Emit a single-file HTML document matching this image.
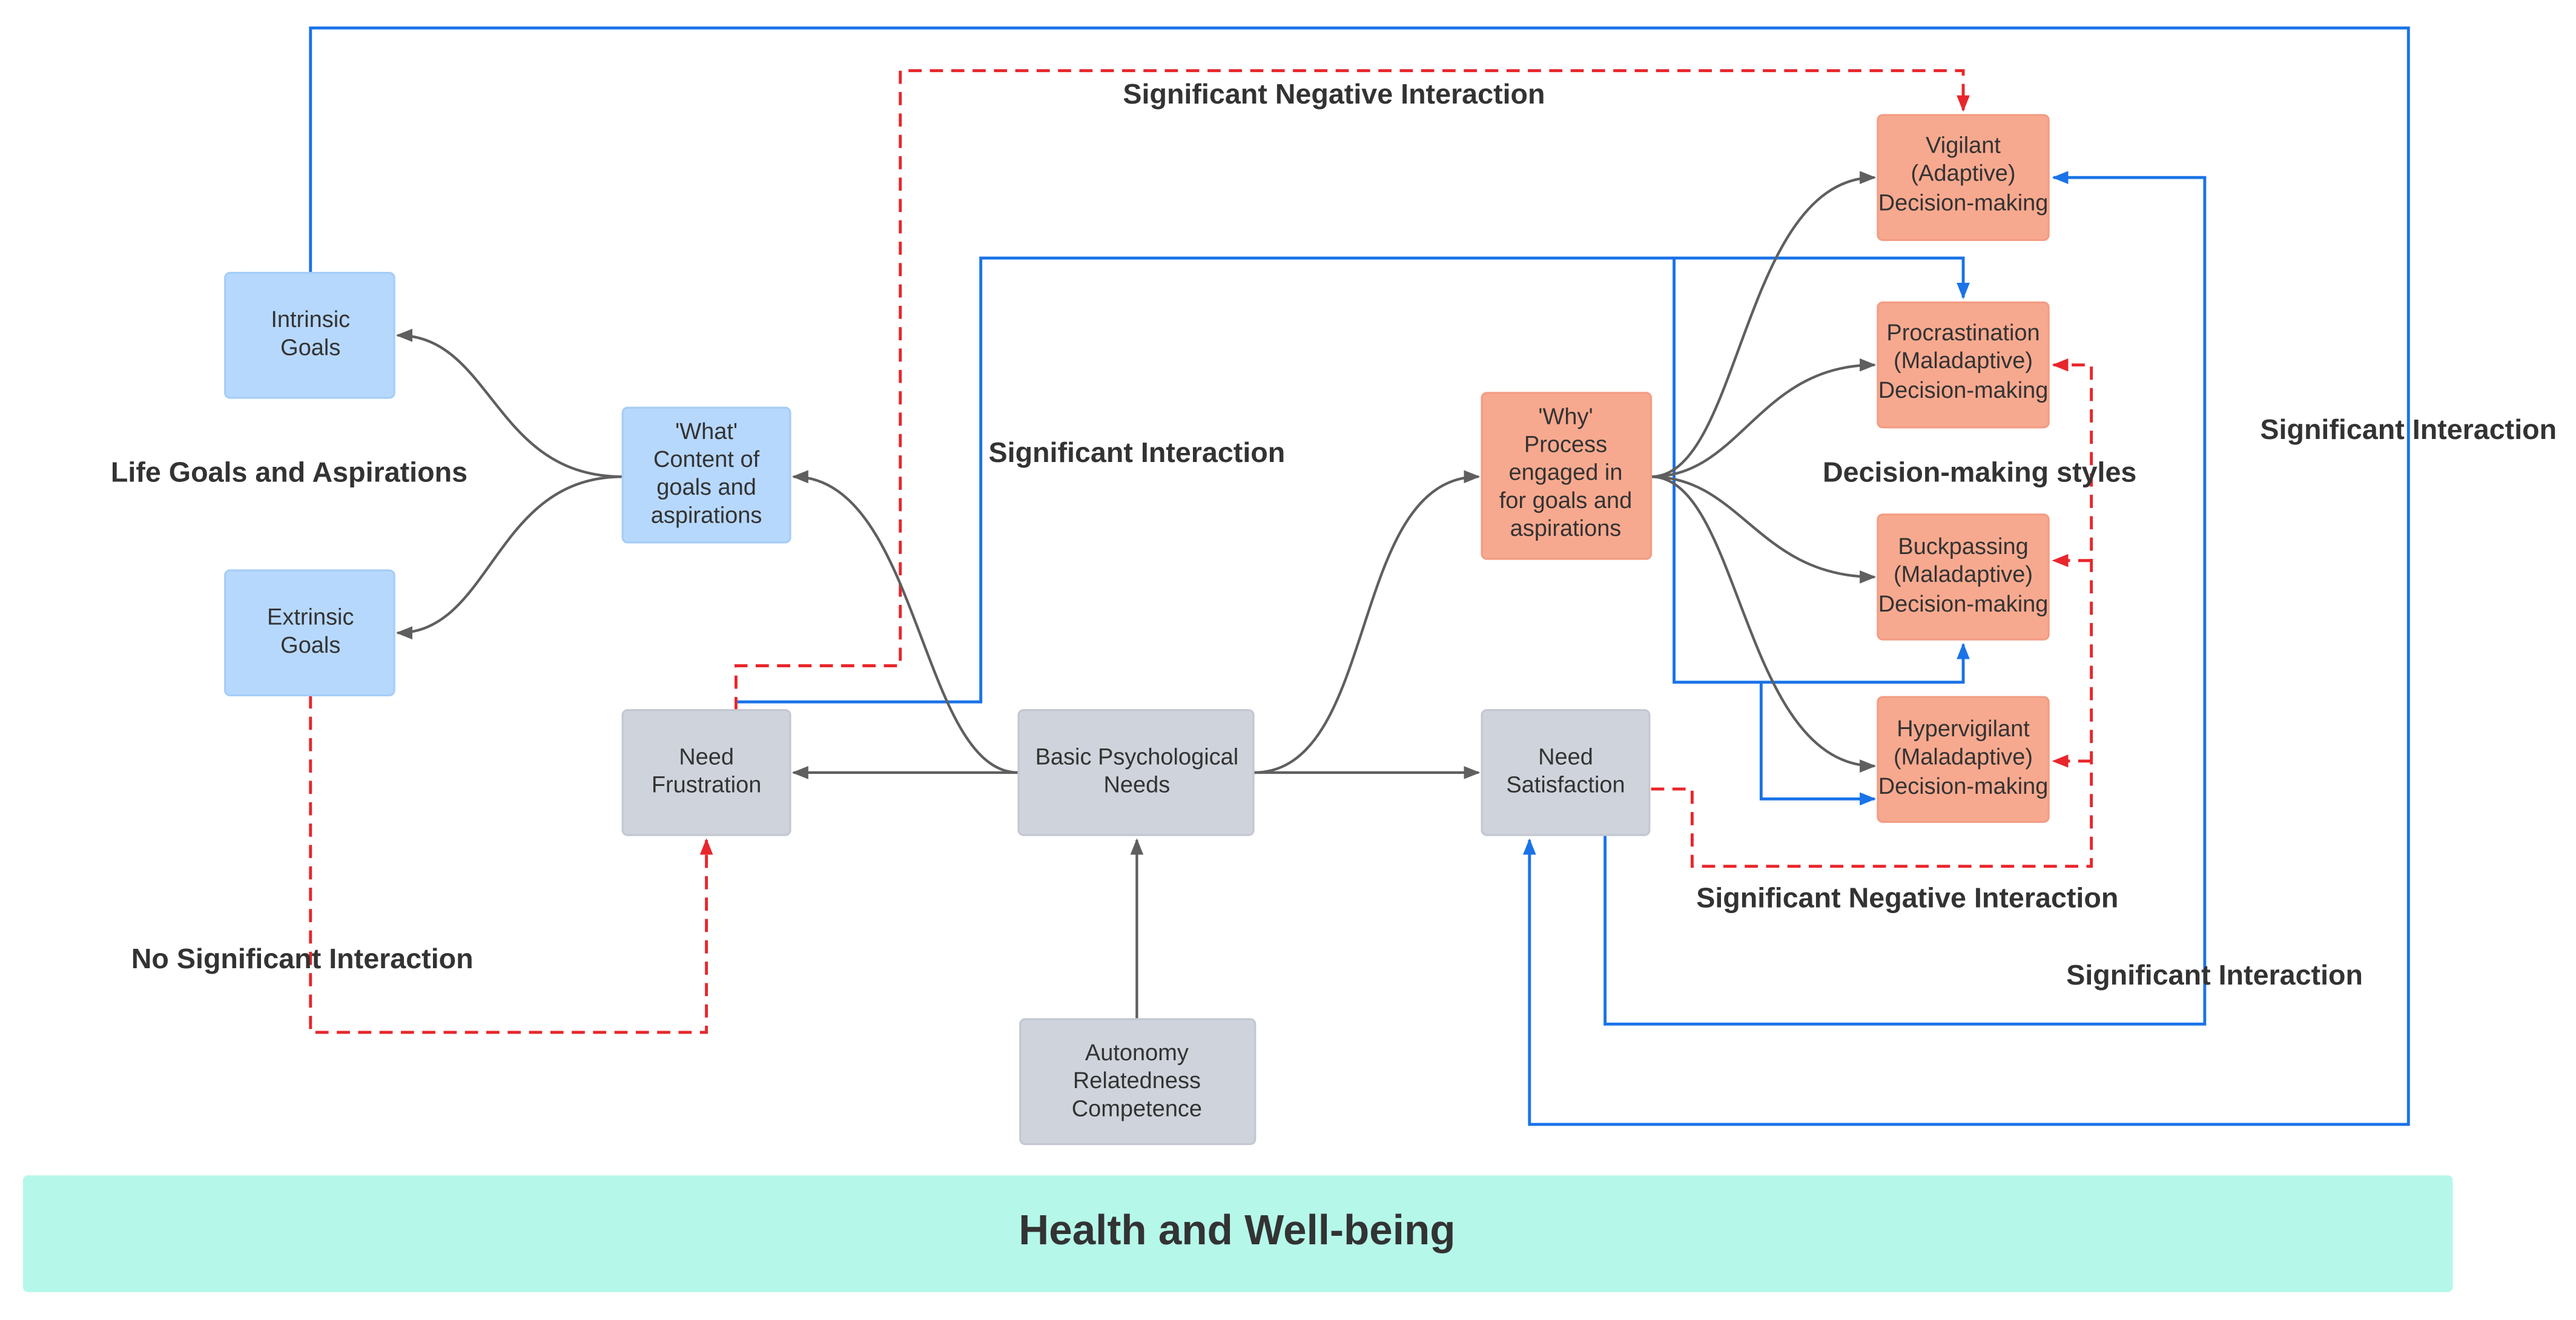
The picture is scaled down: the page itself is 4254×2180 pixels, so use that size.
<!DOCTYPE html>
<html><head><meta charset="utf-8"><style>
html,body{margin:0;padding:0;background:#fff;width:4254px;height:2180px;overflow:hidden}
svg{display:block}
text{font-family:"Liberation Sans",Arial,sans-serif}
.b{font-size:14px;fill:#333;text-anchor:middle}
.l{font-size:17.2px;font-weight:bold;fill:#333;text-anchor:middle}
.g{fill:none;stroke:#5f5f5f;stroke-width:1.6}
.bl{fill:none;stroke:#1a73e8;stroke-width:1.8}
.rd{fill:none;stroke:#e8262b;stroke-width:1.8;stroke-dasharray:8,5}
</style></head><body>
<svg width="4254" height="2180" viewBox="0 0 1568 803" preserveAspectRatio="none" xmlns="http://www.w3.org/2000/svg">
<defs>
<marker id="ag" markerWidth="10" markerHeight="8" refX="9" refY="4" orient="auto" markerUnits="userSpaceOnUse"><path d="M0,0 L10,4 L0,8 z" fill="#5f5f5f"/></marker>
<marker id="ab" markerWidth="10" markerHeight="8" refX="9" refY="4" orient="auto" markerUnits="userSpaceOnUse"><path d="M0,0 L10,4 L0,8 z" fill="#1a73e8"/></marker>
<marker id="ar" markerWidth="10" markerHeight="8" refX="9" refY="4" orient="auto" markerUnits="userSpaceOnUse"><path d="M0,0 L10,4 L0,8 z" fill="#e8262b"/></marker>
</defs>
<rect x="14" y="715" width="1479" height="71" rx="3" fill="#b5f8ea"/>
<text x="753" y="757" style="font-size:25.5px;font-weight:bold;fill:#333;text-anchor:middle">Health and Well-being</text>

<path class="bl" d="M189,166 V17 H1466 V684 H931 V511" marker-end="url(#ab)"/>
<path class="bl" d="M448,427 H597 V157 H1195 V181" marker-end="url(#ab)"/>
<path class="bl" d="M1019,157 V415 H1195 V392" marker-end="url(#ab)"/>
<path class="bl" d="M1072,415 V486 H1141" marker-end="url(#ab)"/>
<path class="bl" d="M977,508 V623 H1342 V108 H1250" marker-end="url(#ab)"/>

<path class="rd" d="M448,432 V405 H548 V43 H1195 V67" marker-end="url(#ar)"/>
<path class="rd" d="M1005,480 H1030 V527 H1273 V222 H1250" marker-end="url(#ar)"/>
<path class="rd" d="M1273,341 H1250" marker-end="url(#ar)"/>
<path class="rd" d="M1273,463 H1250" marker-end="url(#ar)"/>
<path class="rd" d="M189,423 V628 H430 V511" marker-end="url(#ar)"/>

<path class="g" d="M379,290 C300,290 300,204 242,204" marker-end="url(#ag)"/>
<path class="g" d="M379,290 C300,290 300,385 242,385" marker-end="url(#ag)"/>
<path class="g" d="M620,470 C560,470 560,290 483,290" marker-end="url(#ag)"/>
<path class="g" d="M620,470 H483" marker-end="url(#ag)"/>
<path class="g" d="M763,470 H900" marker-end="url(#ag)"/>
<path class="g" d="M763,470 C840,470 820,290 900,290" marker-end="url(#ag)"/>
<path class="g" d="M692,620 V511" marker-end="url(#ag)"/>
<path class="g" d="M1005,290 C1060,290 1060,108 1141,108" marker-end="url(#ag)"/>
<path class="g" d="M1005,290 C1060,290 1070,222 1141,222" marker-end="url(#ag)"/>
<path class="g" d="M1005,290 C1060,290 1070,351 1141,351" marker-end="url(#ag)"/>
<path class="g" d="M1005,290 C1060,290 1060,466 1141,466" marker-end="url(#ag)"/>

<g stroke-width="1.2">
<rect x="137" y="166" width="103" height="76" rx="3" fill="#b7d8fd" stroke="#a6cdf7"/>
<rect x="137" y="347" width="103" height="76" rx="3" fill="#b7d8fd" stroke="#a6cdf7"/>
<rect x="379" y="248" width="102" height="82" rx="3" fill="#b7d8fd" stroke="#a6cdf7"/>
<rect x="379" y="432" width="102" height="76" rx="3" fill="#cfd4dc" stroke="#c3c8d0"/>
<rect x="620" y="432" width="143" height="76" rx="3" fill="#cfd4dc" stroke="#c3c8d0"/>
<rect x="621" y="620" width="143" height="76" rx="3" fill="#cfd4dc" stroke="#c3c8d0"/>
<rect x="902" y="432" width="102" height="76" rx="3" fill="#cfd4dc" stroke="#c3c8d0"/>
<rect x="902" y="239" width="103" height="101" rx="3" fill="#f7a98f" stroke="#f29d83"/>
<rect x="1143" y="70" width="104" height="76" rx="3" fill="#f7a98f" stroke="#f29d83"/>
<rect x="1143" y="184" width="104" height="76" rx="3" fill="#f7a98f" stroke="#f29d83"/>
<rect x="1143" y="313" width="104" height="76" rx="3" fill="#f7a98f" stroke="#f29d83"/>
<rect x="1143" y="424" width="104" height="76" rx="3" fill="#f7a98f" stroke="#f29d83"/>
</g>

<text class="b" x="189" y="199">Intrinsic</text><text class="b" x="189" y="216">Goals</text>
<text class="b" x="189" y="380">Extrinsic</text><text class="b" x="189" y="397">Goals</text>
<text class="b" x="430" y="267">'What'</text><text class="b" x="430" y="284">Content of</text><text class="b" x="430" y="301">goals and</text><text class="b" x="430" y="318">aspirations</text>
<text class="b" x="430" y="465">Need</text><text class="b" x="430" y="482">Frustration</text>
<text class="b" x="692" y="465">Basic Psychological</text><text class="b" x="692" y="482">Needs</text>
<text class="b" x="692" y="645">Autonomy</text><text class="b" x="692" y="662">Relatedness</text><text class="b" x="692" y="679">Competence</text>
<text class="b" x="953" y="465">Need</text><text class="b" x="953" y="482">Satisfaction</text>
<text class="b" x="953" y="258">'Why'</text><text class="b" x="953" y="275">Process</text><text class="b" x="953" y="292">engaged in</text><text class="b" x="953" y="309">for goals and</text><text class="b" x="953" y="326">aspirations</text>
<text class="b" x="1195" y="93">Vigilant</text><text class="b" x="1195" y="110">(Adaptive)</text><text class="b" x="1195" y="128">Decision-making</text>
<text class="b" x="1195" y="207">Procrastination</text><text class="b" x="1195" y="224">(Maladaptive)</text><text class="b" x="1195" y="242">Decision-making</text>
<text class="b" x="1195" y="337">Buckpassing</text><text class="b" x="1195" y="354">(Maladaptive)</text><text class="b" x="1195" y="372">Decision-making</text>
<text class="b" x="1195" y="448">Hypervigilant</text><text class="b" x="1195" y="465">(Maladaptive)</text><text class="b" x="1195" y="483">Decision-making</text>

<text class="l" x="812" y="63">Significant Negative Interaction</text>
<text class="l" x="692" y="281">Significant Interaction</text>
<text class="l" x="176" y="293">Life Goals and Aspirations</text>
<text class="l" x="1205" y="293">Decision-making styles</text>
<text class="l" x="1466" y="267">Significant Interaction</text>
<text class="l" x="1161" y="552">Significant Negative Interaction</text>
<text class="l" x="1348" y="599">Significant Interaction</text>
<text class="l" x="184" y="589">No Significant Interaction</text>
</svg>
</body></html>
